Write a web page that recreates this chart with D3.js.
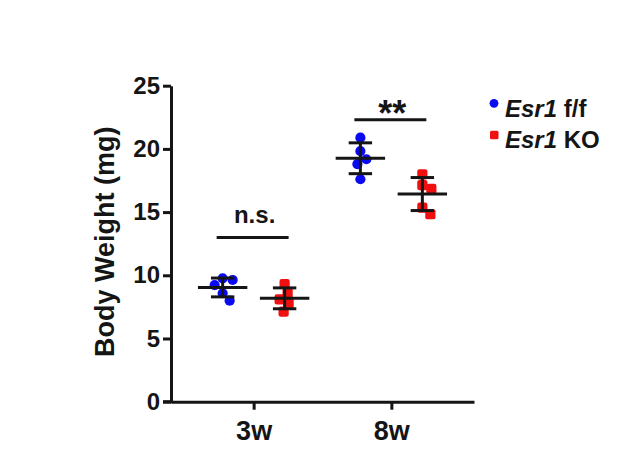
<!DOCTYPE html>
<html>
<head>
<meta charset="utf-8">
<script src="https://cdn.jsdelivr.net/npm/d3@7"></script>
<style>
  body { margin: 0; background: #fff; }
</style>
</head>
<body>
<div id="chart"></div>
<script>
// values (mg)
const ages = ["3w", "8w"];
const genotypes = ["f/f", "KO"];
const fl3w = [9.76, 9.63, 9.23, 8.58, 7.99];
const ko3w = [9.31, 8.58, 8.10, 7.78, 7.12];
const fl8w = [20.89, 19.83, 19.18, 18.80, 17.60];
const ko8w = [17.99, 17.14, 16.83, 15.35, 14.83];
const yTicks = [0, 5, 10, 15, 20, 25];
const sigLabels = ["n.s.", "**"];
const sigLevels = [13.0, 22.3];

const width = 622, height = 469;
const font = "'Liberation Sans', Arial, Helvetica, sans-serif";
const ink = "#151515";
const colors = { "f/f": "#0a0af0", "KO": "#f01010" };

const groups = [
  { age: "3w", gen: "f/f", values: fl3w },
  { age: "3w", gen: "KO", values: ko3w },
  { age: "8w", gen: "f/f", values: fl8w },
  { age: "8w", gen: "KO", values: ko8w }
];

const svg = d3.select("#chart").append("svg")
  .attr("width", width)
  .attr("height", height)
  .style("font-family", font);

const x = d3.scalePoint().domain(ages).range([171, 474]).padding(0.6);
const y = d3.scaleLinear().domain([0, 25]).range([401.7, 85.7]);
const offset = x.step() * 0.225; // genotype shift within an age group
const gx = d => x(d.age) + (d.gen === "f/f" ? -offset : offset);

// axes
const yAxis = svg.append("g")
  .attr("transform", "translate(171,0)")
  .call(d3.axisLeft(y).tickValues(yTicks).tickSize(8).tickSizeOuter(0).tickPadding(3));
yAxis.selectAll("text")
  .attr("font-size", 24).attr("font-weight", "bold").attr("fill", ink)
  .attr("font-family", font);

const xAxis = svg.append("g")
  .attr("transform", "translate(0,401.7)")
  .call(d3.axisBottom(x).tickSize(8).tickSizeOuter(0));
xAxis.selectAll("text")
  .attr("y", 38.5).attr("dy", 0)
  .attr("font-size", 27).attr("font-weight", "bold").attr("fill", ink)
  .attr("font-family", font);

[yAxis, xAxis].forEach(a => {
  a.select(".domain").attr("stroke", ink).attr("stroke-width", 3);
  a.selectAll(".tick line").attr("stroke", ink).attr("stroke-width", 3);
});
// close the corner at the origin
svg.append("line")
  .attr("x1", 163).attr("x2", 172.5)
  .attr("y1", y(0)).attr("y2", y(0))
  .attr("stroke", ink).attr("stroke-width", 3);

svg.append("text")
  .attr("transform", `translate(114,${(y(0) + y(25)) / 2 - 2}) rotate(-90)`)
  .attr("text-anchor", "middle")
  .attr("font-size", 27).attr("font-weight", "bold").attr("fill", ink)
  .text("Body Weight (mg)");

// spread points that overlap vertically, like a column scatter
const r = 5.1;
function dodge(values) {
  const placed = [];
  return values.map(v => {
    const py = y(v);
    let dx = 0;
    for (let k = 0; k < 60; k++) {
      const cand = (k % 2 ? 1 : -1) * Math.ceil(k / 2);
      const ok = placed.every(p => Math.hypot(cand - p.dx, py - p.py) >= 2 * r * 0.95);
      if (ok) { dx = cand; break; }
    }
    placed.push({ dx, py });
    return { v, dx };
  });
}

groups.forEach(g => {
  const cx = gx(g);
  const pts = dodge(g.values);
  const layer = svg.append("g").attr("fill", colors[g.gen]);
  if (g.gen === "f/f") {
    layer.selectAll("circle").data(pts).join("circle")
      .attr("cx", d => cx + d.dx).attr("cy", d => y(d.v)).attr("r", r);
  } else {
    layer.selectAll("rect").data(pts).join("rect")
      .attr("x", d => cx + d.dx - r).attr("y", d => y(d.v) - r)
      .attr("width", 2 * r).attr("height", 2 * r).attr("rx", 2.2);
  }

  // mean and SD
  const m = d3.mean(g.values), sd = d3.deviation(g.values);
  const bars = svg.append("g").attr("stroke", ink).attr("stroke-width", 3);
  bars.append("line").attr("x1", cx).attr("x2", cx).attr("y1", y(m - sd)).attr("y2", y(m + sd));
  [m - sd, m + sd].forEach(v => bars.append("line")
    .attr("x1", cx - 11.7).attr("x2", cx + 11.7).attr("y1", y(v)).attr("y2", y(v)));
  bars.append("line").attr("x1", cx - 24.7).attr("x2", cx + 24.7).attr("y1", y(m)).attr("y2", y(m));
});

// significance annotations
ages.forEach((a, i) => {
  const ly = y(sigLevels[i]);
  svg.append("line")
    .attr("x1", x(a) - offset - 6).attr("x2", x(a) + offset + 4)
    .attr("y1", ly).attr("y2", ly)
    .attr("stroke", ink).attr("stroke-width", 3);
  const star = sigLabels[i].startsWith("*");
  svg.append("text")
    .attr("x", x(a) + 1).attr("y", star ? ly + 6 : ly - 14.3)
    .attr("text-anchor", "middle")
    .attr("font-size", star ? 36 : 24).attr("font-weight", "bold").attr("fill", ink)
    .text(sigLabels[i]);
});

// legend
const legend = svg.append("g").attr("font-size", 24).attr("font-weight", "bold").attr("fill", ink);
genotypes.forEach((gen, i) => {
  const ly = 116.7 + i * 31.6;
  if (gen === "f/f") {
    legend.append("circle").attr("cx", 494).attr("cy", ly - 13.4).attr("r", 4.4).attr("fill", colors[gen]);
  } else {
    legend.append("rect").attr("x", 490).attr("y", ly - 17.5).attr("width", 8.5).attr("height", 8.5)
      .attr("rx", 1.5).attr("fill", colors[gen]);
  }
  const t = legend.append("text").attr("x", 505).attr("y", ly);
  t.append("tspan").attr("font-style", "italic").text("Esr1");
  t.append("tspan").text(" " + gen);
});
</script>
</body>
</html>
